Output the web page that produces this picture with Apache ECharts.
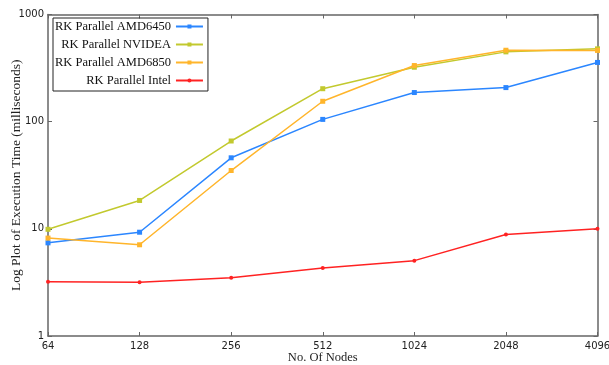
<!DOCTYPE html>
<html>
<head>
<meta charset="utf-8">
<script src="https://cdn.jsdelivr.net/npm/echarts@6/dist/echarts.min.js"></script>
<style>
  html, body { margin: 0; padding: 0; background: #fff; }
  #chart { width: 609px; height: 365px; }
</style>
</head>
<body>
<div id="chart"></div>
<script>
// ── 資料 ─────────────────────────────────────
const nodes      = ['64', '128', '256', '512', '1024', '2048', '4096'];
const amd6450    = [7.4, 9.3, 46, 105, 187, 208, 357];
const nvidea     = [9.9, 18.4, 66, 203, 322, 448, 478];
const amd6850    = [8.2, 7.1, 35, 155, 334, 464, 462];
const intel      = [3.2, 3.18, 3.5, 4.3, 5.05, 8.85, 10.0];

const serif = '"Liberation Serif", "DejaVu Serif", serif';
const sans  = '"DejaVu Sans", sans-serif';
const axisGray = '#666';

function line(name, data, color, symbol, size) {
  return {
    name, type: 'line', data,
    symbol, symbolSize: size,
    lineStyle: { color, width: 1.5 },
    itemStyle: { color },
    emphasis: { disabled: true },
  };
}

const chart = echarts.init(document.getElementById('chart'));
chart.setOption({
  animation: false,
  backgroundColor: '#fff',
  grid: { left: 48, right: 11.5, top: 14.5, bottom: 29, containLabel: false, outerBoundsMode: 'none' },
  legend: {
    orient: 'vertical',
    left: 53, top: 18,
    align: 'right',
    itemWidth: 27, itemHeight: 5, itemGap: 5,
    padding: [2, 4, 4, 2],
    borderColor: '#222', borderWidth: 1,
    textStyle: { fontFamily: serif, fontSize: 12.5, color: '#111', padding: [0, 0, 0, 0] },
    data: ['RK Parallel AMD6450', 'RK Parallel NVIDEA', 'RK Parallel AMD6850', 'RK Parallel Intel'],
  },
  xAxis: [{
    type: 'category', data: nodes, boundaryGap: false,
    name: 'No. Of Nodes', nameLocation: 'middle', nameGap: 15, nameMoveOverlap: false,
    nameTextStyle: { fontFamily: serif, fontSize: 12.5, color: '#222' },
    axisLine: { lineStyle: { color: axisGray, width: 1.5 } },
    axisTick: { inside: true, length: 4, lineStyle: { color: axisGray } },
    axisLabel: { fontFamily: sans, fontSize: 10, color: '#222', margin: 5 },
    splitLine: { show: false },
  }, {
    type: 'category', data: nodes, boundaryGap: false, position: 'top',
    axisLine: { lineStyle: { color: axisGray, width: 1.5 } },
    axisTick: { inside: true, length: 4, lineStyle: { color: axisGray } },
    axisLabel: { show: false },
  }],
  yAxis: [{
    type: 'log', logBase: 10, min: 1, max: 1000,
    name: 'Log Plot of Execution Time (milliseconds)',
    nameLocation: 'middle', nameGap: 25, nameMoveOverlap: false,
    nameTextStyle: { fontFamily: serif, fontSize: 13.5, color: '#222' },
    axisLine: { show: true, lineStyle: { color: axisGray, width: 1.5 } },
    axisTick: { show: true, inside: true, length: 4, lineStyle: { color: axisGray } },
    axisLabel: { fontFamily: sans, fontSize: 10, color: '#222', margin: 4, formatter: v => String(Math.round(v)) },
    splitLine: { show: false },
  }, {
    type: 'log', logBase: 10, min: 1, max: 1000, position: 'right',
    axisLine: { show: true, lineStyle: { color: axisGray, width: 1.5 } },
    axisTick: { show: true, inside: true, length: 4, lineStyle: { color: axisGray } },
    axisLabel: { show: false },
    splitLine: { show: false },
  }],
  series: [
    line('RK Parallel AMD6450', amd6450, '#2b86ff', 'rect', 5),
    line('RK Parallel NVIDEA',  nvidea,  '#c2c92e', 'rect', 5),
    line('RK Parallel AMD6850', amd6850, '#ffb52b', 'rect', 5),
    line('RK Parallel Intel',   intel,   '#ff2222', 'circle', 4),
  ],
});
</script>
</body>
</html>
